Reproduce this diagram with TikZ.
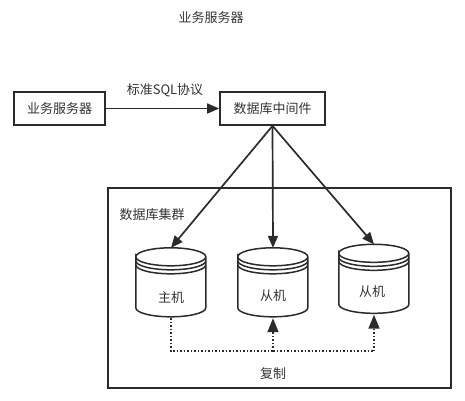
\documentclass[tikz,border=0pt]{standalone}
\usepackage{fontspec}
\setmainfont{Noto Sans CJK SC}
\usetikzlibrary{calc, arrows.meta}
\definecolor{ink}{HTML}{2B2B2B}
\definecolor{textgray}{HTML}{333333}
\newcommand{\dbnode}[2]{%
  \node[db] (#1) at (#2) {};
  \draw[dbline] ($(#1.north west)-(0pt,9pt)$)
    arc[start angle=180, end angle=-180, x radius=35pt, y radius=9pt]
    -- ++(0pt,-51pt)
    arc[start angle=180, end angle=360, x radius=35pt, y radius=9pt]
    -- ++(0pt,51pt);
  \draw[dbline] ($(#1.north west)-(0pt,13pt)$)
    arc[start angle=180, end angle=360, x radius=35pt, y radius=9pt];
  \draw[dbline] ($(#1.north west)-(0pt,17pt)$)
    arc[start angle=180, end angle=360, x radius=35pt, y radius=9pt];
}

\begin{document}
\begin{tikzpicture}[
  x=1pt, y=-1pt,
  box/.style={draw=ink, line width=1.7pt, minimum height=33pt, inner sep=0pt,
              text=textgray, text height=11pt, text depth=1pt,
              font=\fontsize{13}{15}\selectfont},
  txt/.style={text=textgray, inner sep=0pt, text height=11pt, text depth=1pt,
              font=\fontsize{13}{15}\selectfont},
  db/.style={minimum width=70pt, minimum height=70pt, inner sep=0pt},
  dbline/.style={draw=ink, line width=1.5pt},
  flow/.style={-{Triangle[length=12pt, width=10pt]}, draw=ink, line width=1.7pt},
  repl/.style={draw=ink, line width=1.5pt, dash pattern=on 1.5pt off 2pt},
  repltip/.style={repl, -{Triangle[length=14pt, width=11pt]}},
]
\useasboundingbox (0,0) rectangle (465,400);

\node[txt] (title) at (211,17) {业务服务器};
\node[box, minimum width=91pt] (srv) at (59.5,108.5) {业务服务器};
\node[box, minimum width=105pt] (mid) at (272.5,108.5) {数据库中间件};
\node[txt] (proto) at (165,89) {标准SQL协议};

\node[draw=ink, line width=1.7pt, minimum width=343pt, minimum height=200pt, inner sep=0pt] (cluster) at (279.5,288) {};
\node[txt] (clusterText) at (152,214) {数据库集群};

\dbnode{master}{171,283}
\dbnode{slaveA}{273,283}
\dbnode{slaveB}{374,279.5}
\node[txt] (masterText) at (171,297) {主机};
\node[txt] (slaveAText) at (273,295) {从机};
\node[txt] (slaveBText) at (372,291) {从机};
\node[txt] (replText) at (273,373) {复制};

\draw[flow] (srv) -- (mid);
\draw[flow] (mid.south) -- (master.north);
\draw[flow] (mid.south) -- (slaveA.north);
\draw[flow] (mid.south) -- (slaveB.north);

\coordinate (bus) at (0,351);
\draw[repl] (master.south) -- (master.south |- bus) -- (slaveA.south |- bus);
\draw[repltip] (slaveA.south |- bus) -- (slaveA.south);
\draw[repl] (slaveA.south |- bus) -- (slaveB.south |- bus);
\draw[repltip] (slaveB.south |- bus) -- (slaveB.south);
\end{tikzpicture}
\end{document}
